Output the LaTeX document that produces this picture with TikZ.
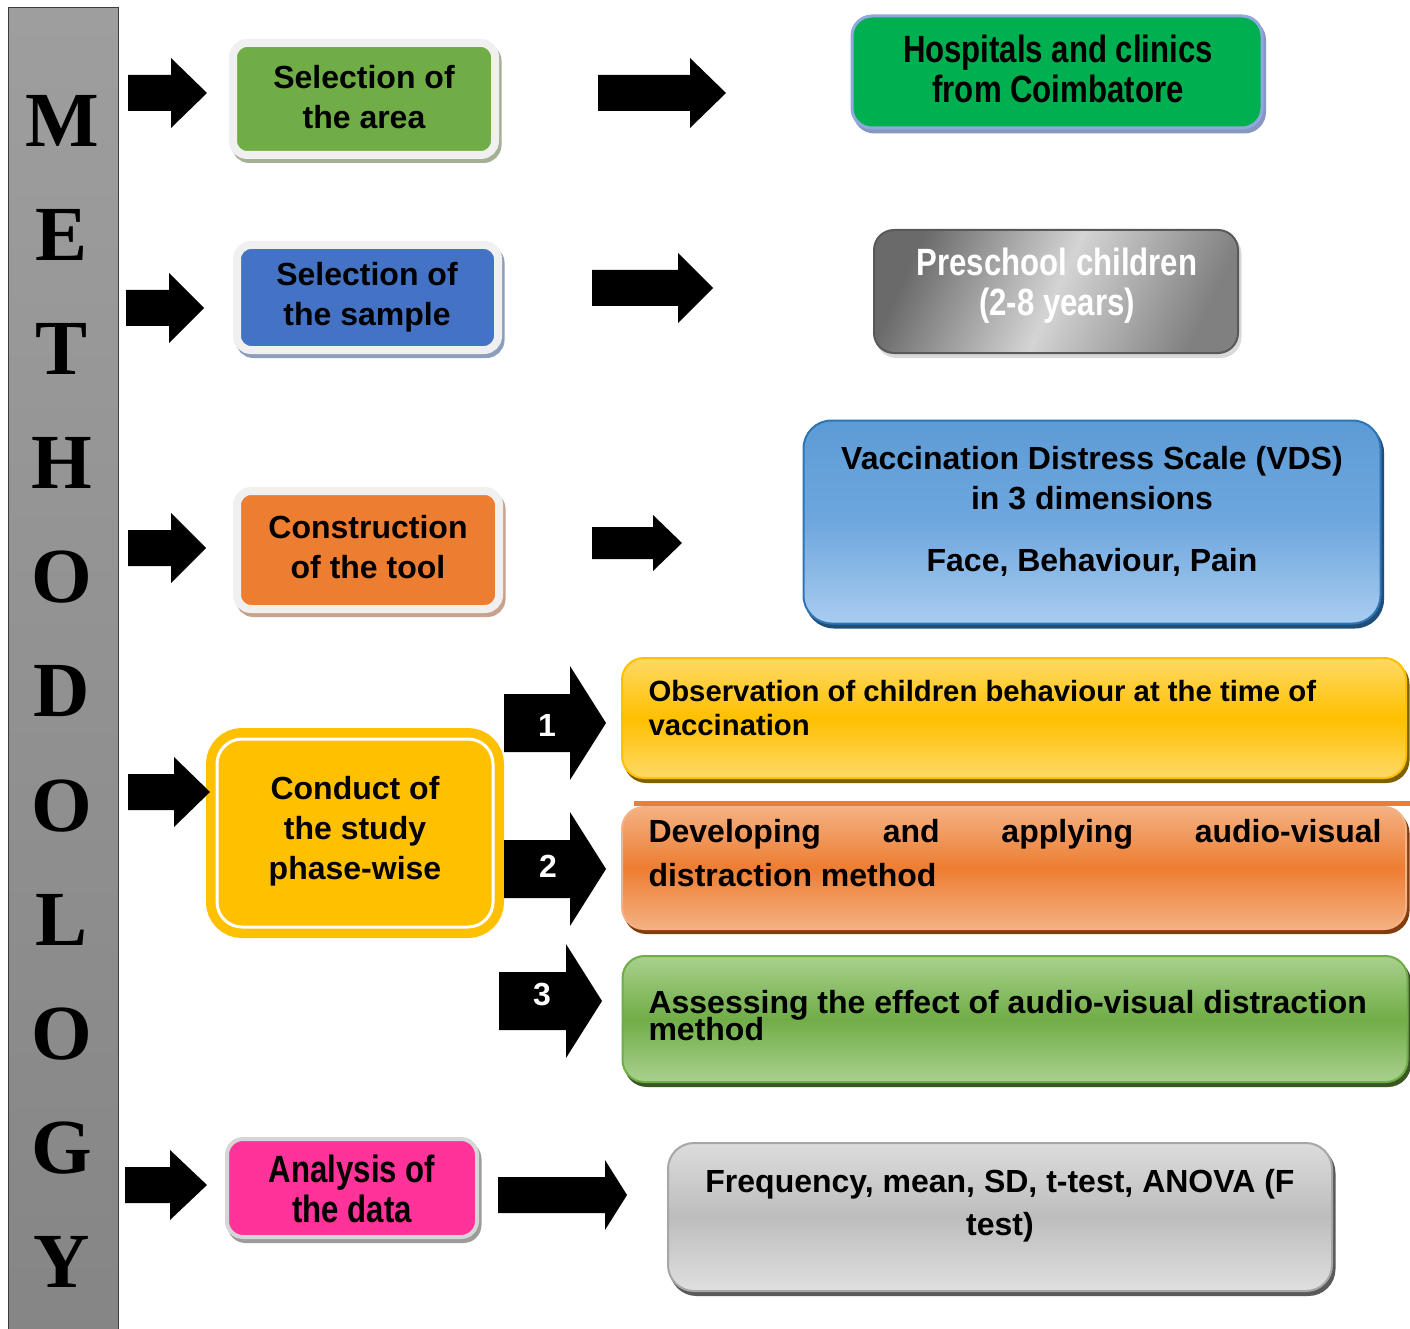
\documentclass[tikz,border=0pt]{standalone}
\usepackage{fontspec}
\setmainfont{Liberation Sans}
\newfontfamily\narrowfont{Liberation Sans}[FakeStretch=0.82]
\newfontfamily\lettfont{Liberation Serif}
\definecolor{frameC}{HTML}{F0F0F0}
\definecolor{gArea}{HTML}{70AD47}
\definecolor{shArea}{HTML}{A3B094}
\definecolor{bSample}{HTML}{4472C4}
\definecolor{shSample}{HTML}{8D9EBD}
\definecolor{oTool}{HTML}{ED7D31}
\definecolor{shTool}{HTML}{C9A28C}
\definecolor{yCond}{HTML}{FFC000}
\definecolor{pAna}{HTML}{FF3399}
\definecolor{frAna}{HTML}{D6D6D6}
\definecolor{shAna}{HTML}{9C9C9C}
\definecolor{gHosp}{HTML}{00B050}
\definecolor{bdHosp}{HTML}{8EA9DB}
\definecolor{shHosp}{HTML}{8797C2}
\definecolor{grDark}{HTML}{6A6A6A}
\definecolor{grLight}{HTML}{D4D4D4}
\definecolor{bdPre}{HTML}{595959}
\definecolor{vdsTop}{HTML}{5D9BD6}
\definecolor{vdsMid}{HTML}{6EA7DE}
\definecolor{vdsBot}{HTML}{A9CCF0}
\definecolor{vdsBd}{HTML}{2E75B6}
\definecolor{vdsSh}{HTML}{1F4E79}
\definecolor{obsLt}{HTML}{FFD966}
\definecolor{obsSh}{HTML}{7F6000}
\definecolor{devLt}{HTML}{F4B183}
\definecolor{devSh}{HTML}{843C0C}
\definecolor{assLt}{HTML}{A9D18E}
\definecolor{assSh}{HTML}{385723}
\definecolor{frqLt}{HTML}{DCDCDC}
\definecolor{frqMid}{HTML}{BDBDBD}
\definecolor{frqBd}{HTML}{A6A6A6}
\definecolor{frqSh}{HTML}{5A5A5A}
\definecolor{barTop}{HTML}{9E9E9E}
\definecolor{barBot}{HTML}{858585}
\definecolor{barBd}{HTML}{3C3C3C}
\newcommand{\barrow}[6]{%
  \fill (#1,#4-#5) -- (#2,#4-#5) -- (#2,#4-#6) -- (#3,#4) -- (#2,#4+#6) -- (#2,#4+#5) -- (#1,#4+#5) -- cycle;}
\begin{document}
\begin{tikzpicture}[x=1pt,y=-1pt,
  txt/.style={font=\bfseries\fontsize{32}{40}\selectfont, align=center, text=black},
  ntxt/.style={font=\narrowfont\bfseries\fontsize{38}{40}\selectfont, align=center, text=black},
  letter/.style={font=\lettfont\bfseries\fontsize{78}{78}\selectfont, inner sep=0pt},
  numlab/.style={font=\bfseries\fontsize{32}{32}\selectfont, text=white, inner sep=0pt},
  shad/.style={preaction={fill=#1, draw=#1, transform canvas={shift={(2.5pt,-4pt)}}}},
  framedbox/.style={draw=frameC, line width=8pt, rounded corners=14pt},
  gradbox/.style={rounded corners=22pt, line width=2pt},
]
\useasboundingbox (0,0) rectangle (1410,1329);
\fill[white] (0,0) rectangle (1410,1329);

% left bar
\node (bar) [anchor=north west, draw=barBd, line width=1.2pt, top color=barTop, bottom color=barBot,
  minimum width=110pt, minimum height=1340pt, inner sep=0pt] at (8,7) {};
\foreach \l [count=\i from 0] in {M,E,T,H,O,D,O,L,O,G,Y}
  \node[letter] (L\i) at (62,{121+\i*114.1}) {\l};

% left column boxes
\node (area) [framedbox, fill=gArea, shad=shArea, minimum width=262pt, minimum height=112pt] at (364,99) {};
\node (areat) [txt] at (364,97) {Selection of\\the area};
\node (sample) [framedbox, fill=bSample, shad=shSample, minimum width=261pt, minimum height=105pt] at (367.5,297.5) {};
\node (samplet) [txt] at (367,297) {Selection of\\the sample};
\node (tool) [framedbox, fill=oTool, shad=shTool, minimum width=262pt, minimum height=118pt] at (368,550) {};
\node (toolt) [txt] at (368,547) {Construction\\of the tool};
\node (conduct) [fill=yCond, draw=white, line width=3pt, rounded corners=25pt,
  preaction={draw=yCond, line width=22pt},
  minimum width=276pt, minimum height=188pt] at (355,833) {};
\node (conductt) [txt] at (355,831) {Conduct of\\the study\\phase-wise};
\node (ana) [draw=frAna, line width=4pt, rounded corners=16pt, fill=pAna, shad=shAna,
  minimum width=250pt, minimum height=98pt] at (352,1188) {};
\node (anat) [ntxt] at (352,1189) {Analysis of\\the data};

% right column boxes
\node (hosp) [draw=bdHosp, line width=3pt, rounded corners=20pt, fill=gHosp, shad=shHosp,
  minimum width=410pt, minimum height=112pt] at (1057,72) {};
\node (hospt) [ntxt] at (1058,69) {Hospitals and clinics\\from Coimbatore};
\node (pre) [draw=bdPre, line width=2pt, rounded corners=20pt,
  left color=grDark, right color=grDark!85!white, middle color=grLight, shading angle=65,
  shad=white!85!black,
  minimum width=364pt, minimum height=123pt] at (1056,291.5) {};
\node (pret) [ntxt, text=white] at (1057,286) {Preschool children\\(2-8 years)};
\node (vds) [draw=vdsBd, gradbox, rounded corners=28pt, top color=vdsTop, bottom color=vdsBot, middle color=vdsMid,
  shad=vdsSh, minimum width=577pt, minimum height=203pt] at (1092,522) {};
\node (vdst) [txt] at (1092,511) {Vaccination Distress Scale (VDS)\\in 3 dimensions\\[22pt]Face, Behaviour, Pain};

\node (obs) [draw=yCond, gradbox, top color=obsLt, bottom color=obsLt, middle color=yCond,
  shad=obsSh, minimum width=784pt, minimum height=120pt] at (1014,718) {};
\node (obst) [txt, align=left, anchor=west, font=\bfseries\fontsize{29.3}{34}\selectfont] at (645,708)
  {Observation of children behaviour at the time of\\vaccination};

\draw[oTool, line width=5pt] (634,803) coordinate (lineA) -- (1410,803) coordinate (lineB);

\node (dev) [draw=devLt, line width=0.5pt, gradbox, top color=devLt, bottom color=devLt, middle color=oTool,
  shad=devSh, minimum width=784pt, minimum height=122pt] at (1014,868) {};
\node (devt) [txt, align=left, anchor=west, font=\bfseries\fontsize{32}{44}\selectfont] at (645,853)
  {\makebox[733pt][s]{Developing\hfill and\hfill applying\hfill audio-visual}\\distraction method};

\node (ass) [draw=gArea, gradbox, top color=assLt, bottom color=assLt, middle color=gArea,
  shad=assSh, minimum width=785pt, minimum height=126pt] at (1015,1019) {};
\node (asst) [txt, align=left, anchor=west, font=\bfseries\fontsize{32}{25}\selectfont] at (645,1016)
  {Assessing the effect of audio-visual distraction\\[-4pt]method};

\node (frq) [draw=frqBd, gradbox, rounded corners=26pt, top color=frqLt, bottom color=frqLt!90!white, middle color=frqMid,
  shad=frqSh, minimum width=664pt, minimum height=148pt] at (1000,1217) {};
\node (frqt) [txt, font=\bfseries\fontsize{32}{43}\selectfont] at (1000,1206)
  {Frequency, mean, SD, t-test, ANOVA (F\\test)};

% block arrows from bar to left boxes
\barrow{128}{171}{207}{93}{18}{35}
\barrow{126}{169}{204}{308}{18}{35}
\barrow{128}{171}{206}{548}{18}{35}
\barrow{128}{174}{210}{792}{18}{35}
\barrow{125}{170}{207}{1185}{18}{35}
% block arrows to right boxes
\barrow{598}{690}{726}{93}{18}{35}
\barrow{592}{678}{713}{288}{18}{35}
\barrow{592}{653}{682}{543}{16}{28}
\barrow{498}{605}{627}{1195}{18}{35}
% numbered arrows
\barrow{504}{570}{606}{723}{29}{57}
\barrow{504}{570}{606}{869}{29}{57}
\barrow{499}{566}{602}{1001}{29}{57}
\node (n1) [numlab] at (547,725) {1};
\node (n2) [numlab] at (548,866) {2};
\node (n3) [numlab] at (542,994) {3};
\end{tikzpicture}
\end{document}
